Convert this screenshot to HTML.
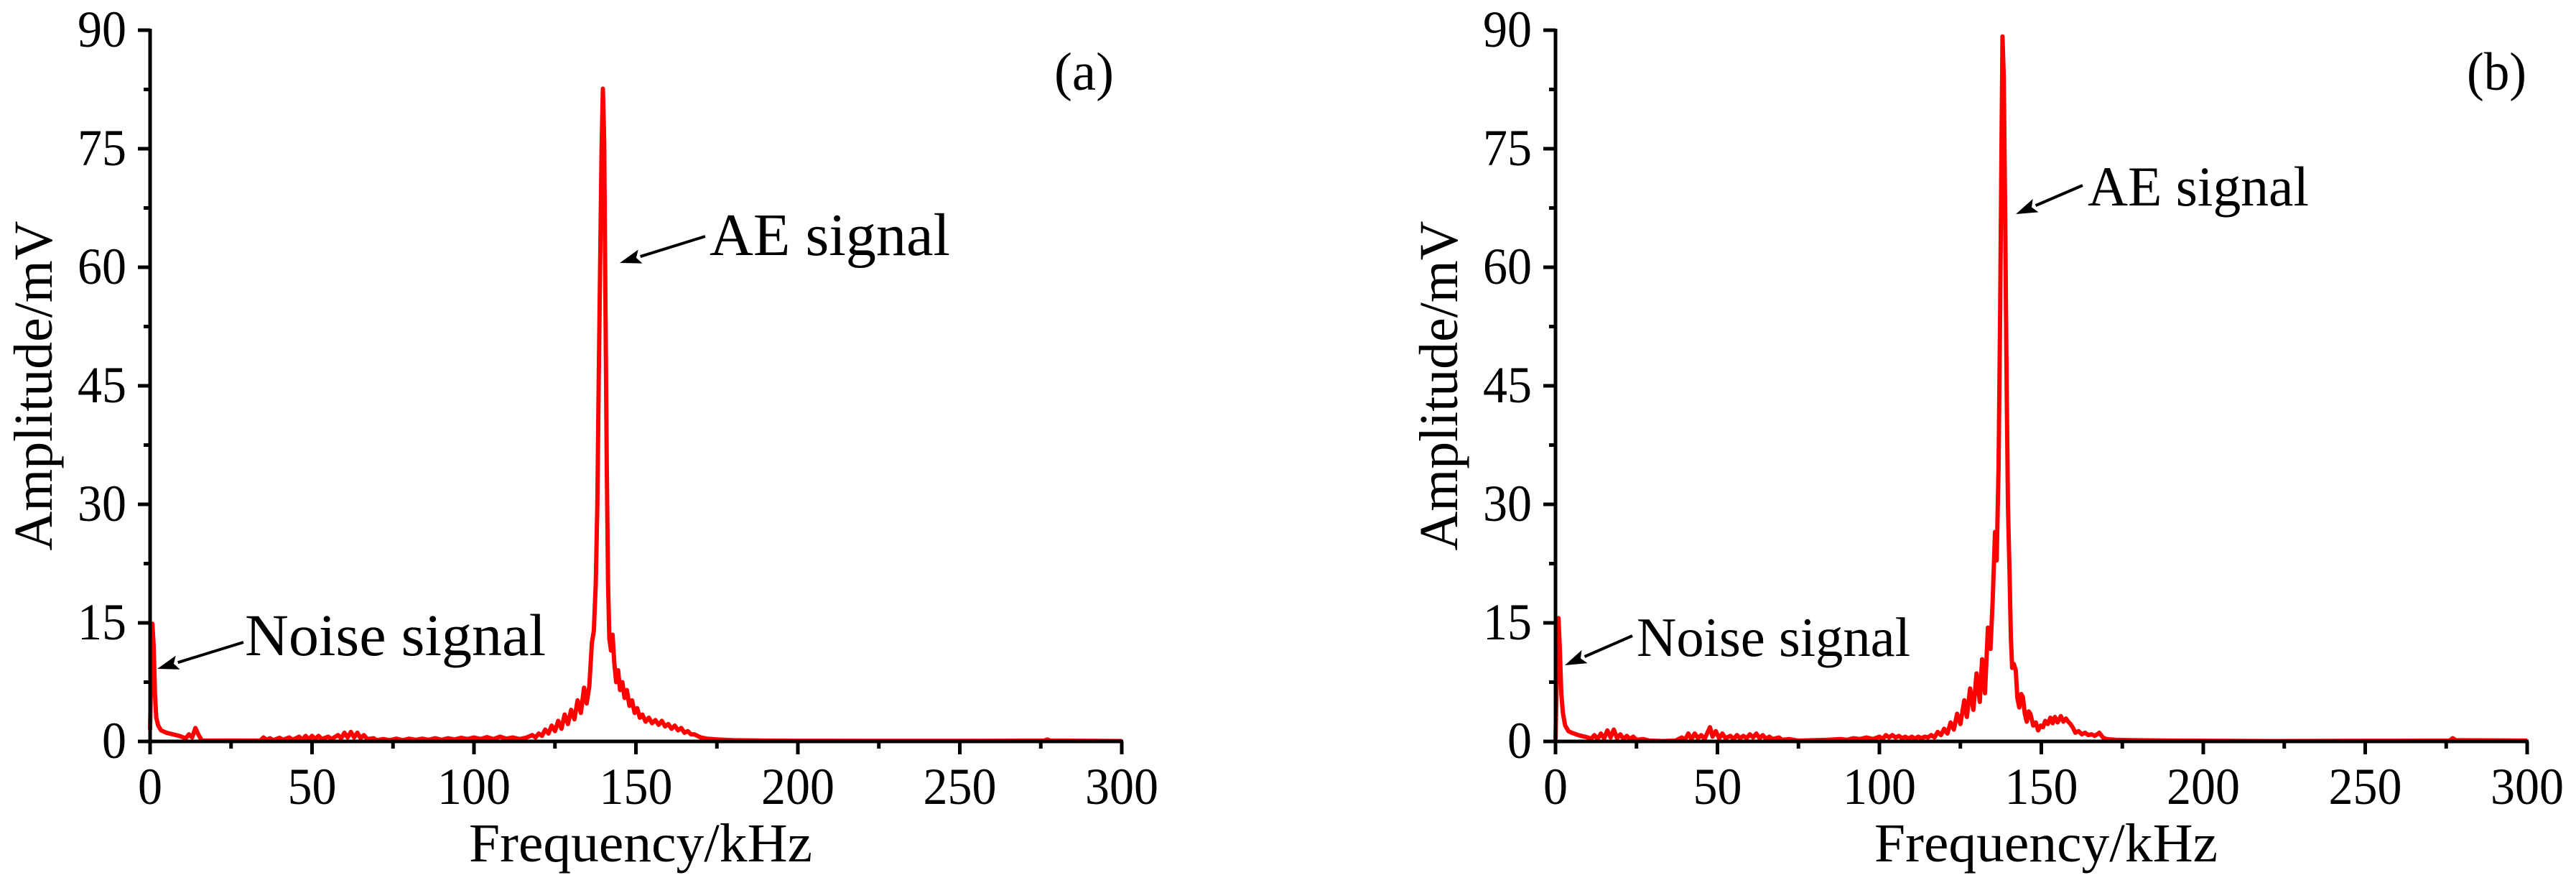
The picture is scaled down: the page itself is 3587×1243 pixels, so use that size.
<!DOCTYPE html>
<html><head><meta charset="utf-8"><style>
html,body{margin:0;padding:0;background:#fff;}
svg{display:block;}
text{font-family:"Liberation Serif","Times New Roman",Times,serif;fill:#000;}
</style></head><body>
<svg id="fig" width="3587" height="1243" viewBox="0 0 3587 1243" xmlns="http://www.w3.org/2000/svg">
<g id="pa"></g>
<g id="pb"></g>
</svg>
<script>
const xTicks = [0, 50, 100, 150, 200, 250, 300];
const yTicks = [0, 15, 30, 45, 60, 75, 90];
const leftFreq = [0,0.4,0.7,1.1,1.5,1.9,2.5,3.4,5,7,9,10,11,12,13,14,15,16,20,25,30,34,35,36,37,38,40,41,43,44,46,47,48,49,50,51,52,53,55,56,58,59,60,61,62,63,64,65,66,67,69,70,72,74,76,78,80,82,84,86,88,90,92,94,96,98,100,102,104,106,108,110,112,114,116,118,119,120,121,122,123,124,125,126,127,128,129,130,131,132,133,134,134.8,135.6,136.4,137,137.6,138.1,138.5,139,139.4,139.8,140.2,140.6,141,141.4,141.8,142.3,142.8,143.3,143.9,144.5,145.1,145.8,146.5,147.2,148,148.8,149.6,150.4,151.2,152,153,154,155,156,157,158,159,160,161,162,163,164,165,166,167,168,170,172,175,180,190,200,220,250,276,277,278,300];
const leftAmp = [1.5,10,14.9,12,6,3,2,1.4,1.1,0.9,0.7,0.55,0.4,0.9,0.5,1.7,0.8,0.1,0.1,0.12,0.1,0.1,0.5,0.2,0.4,0.15,0.45,0.2,0.5,0.2,0.6,0.2,0.7,0.25,0.7,0.3,0.7,0.3,0.6,0.3,0.8,0.4,1.1,0.5,1.2,0.5,1.1,0.4,0.8,0.3,0.4,0.15,0.3,0.15,0.35,0.15,0.35,0.2,0.35,0.2,0.4,0.2,0.4,0.25,0.45,0.3,0.5,0.3,0.55,0.3,0.6,0.35,0.5,0.3,0.45,0.8,0.5,1.0,0.7,1.5,1.0,2.0,1.3,2.6,1.6,3.4,2.2,4.0,2.8,5.2,3.6,6.8,4.8,7.0,12.5,14,20,30,45,62,75,82.6,76,55,35,20,13,11.5,13.5,10,7.5,9,6.5,7.5,5.5,6.5,4.5,5.2,3.6,4.2,3.0,3.4,2.5,3.0,2.3,2.7,2.1,2.6,1.9,2.2,1.6,2.0,1.4,1.7,1.1,1.3,0.9,0.9,0.5,0.35,0.25,0.15,0.1,0.08,0.06,0.06,0.1,0.25,0.1,0.05];
const rightFreq = [0,0.4,0.9,1.3,1.8,2.3,3,4,5,7,9,10,11,12,13,14,15,16,17,18,19,20,21,22,23,24,25,27,29,33,37,39,40,41,42,43,44,45,46,47.7,48.5,49.5,50.5,51.5,52.5,54,55,56,57,58,59,60,61,62,63,64,65,66,67,69,70,72,75,80,84,88,90,92,94,96,98,100,101,102,103,104,105,106,107,108,109,110,111,112,113,114,115,116,117,118,119,120,121,122,123,124,125,126.2,127,128,129,130,131,131.7,132.6,133.5,134.3,135,135.7,136.2,136.8,137.3,137.7,138,138.4,138.8,139.3,139.7,140.2,140.6,141,141.5,142.1,142.6,143.2,143.8,144.3,144.9,145.5,146.1,146.6,147.5,148.3,149,149.8,150.5,151.2,152,152.8,153.5,154.2,155,156,156.8,157.6,158.3,159,159.8,160.5,161.5,162.5,163.5,164.5,165.5,166.5,167.9,169,170,173,178,190,220,260,276,277,278,300];
const rightAmp = [0.3,8,15.6,12,6,3.5,2,1.3,1.1,0.8,0.6,0.5,0.3,0.8,0.3,1.0,0.4,1.4,0.5,1.5,0.4,0.9,0.3,0.7,0.3,0.6,0.2,0.3,0.1,0.05,0.1,0.5,0.2,1.0,0.3,1.0,0.4,0.8,0.3,1.8,0.6,1.3,0.4,1.0,0.4,0.7,0.3,0.8,0.4,0.7,0.4,0.9,0.5,1.0,0.4,0.8,0.3,0.6,0.3,0.5,0.2,0.3,0.1,0.15,0.2,0.3,0.2,0.4,0.3,0.5,0.3,0.6,0.3,0.8,0.5,0.8,0.5,0.7,0.4,0.6,0.35,0.6,0.35,0.6,0.4,0.6,0.5,0.8,0.5,1.2,0.8,1.6,1.0,2.4,1.5,3.5,2.2,5.2,3.1,6.7,4.0,8.6,5.0,10.4,6.1,14.4,11.7,18,26.5,22.9,35,55,75,89.2,84,68,45,30,21,13,9.3,9.8,9,5.5,4.3,6,5.6,3.5,2.5,3.8,3.5,2.0,2.4,1.4,2.0,1.8,2.6,2.2,3.0,2.3,3.1,2.4,3.2,2.5,2.9,2.5,2.2,1.7,1.1,1.3,0.9,1.1,0.8,0.9,0.7,1.1,0.5,0.3,0.2,0.15,0.1,0.05,0.08,0.1,0.4,0.15,0.1];

const NS = "http://www.w3.org/2000/svg";
function mk(parent, tag, attrs, txt) {
  const e = document.createElementNS(NS, tag);
  for (const k in attrs) e.setAttribute(k, attrs[k]);
  if (txt !== undefined) e.textContent = txt;
  parent.appendChild(e);
  return e;
}
function drawPanel(g, x0, freq, amp, cfg) {
  const y0 = 1032, pxPerKHz = 4.51, pxPerMv = 11.0;
  const X = f => x0 + f * pxPerKHz;
  const Y = v => y0 - v * pxPerMv;
  let d = "";
  for (let i = 0; i < freq.length; i++) d += (i ? "L" : "M") + X(freq[i]).toFixed(1) + " " + Y(amp[i]).toFixed(1);
  const line = mk(g, "path", {d: d, fill: "none", stroke: "#ff0000", "stroke-width": 6, "stroke-linejoin": "round"});
  
  
  const ax = mk(g, "path", {d: `M${X(0)} ${Y(90)-2}V${y0}H${X(300)+2}`, fill: "none", stroke: "#000", "stroke-width": 5});
  
  
  for (let i = 0; i < yTicks.length; i++) {
    const v = yTicks[i];
    const t = mk(g, "line", {x1: X(0)-17, x2: X(0), y1: Y(v), y2: Y(v), stroke: "#000", "stroke-width": 5});
    
    
    if (i < yTicks.length - 1) {
      const vm = v + 7.5;
      const m = mk(g, "line", {x1: X(0)-9, x2: X(0), y1: Y(vm), y2: Y(vm), stroke: "#000", "stroke-width": 5});
      
      
    }
    const s = String(v);
    const lb = mk(g, "text", {x: X(0)-33, y: Y(v)+23, "font-size": 72, "text-anchor": "end", textLength: 34*s.length, lengthAdjust: "spacingAndGlyphs"}, s);
    
    
  }
  for (let i = 0; i < xTicks.length; i++) {
    const f = xTicks[i];
    const t = mk(g, "line", {x1: X(f), x2: X(f), y1: y0, y2: y0+18, stroke: "#000", "stroke-width": 5});
    
    
    if (i < xTicks.length - 1) {
      const fm = f + 25;
      const m = mk(g, "line", {x1: X(fm), x2: X(fm), y1: y0, y2: y0+10, stroke: "#000", "stroke-width": 5});
      
      
    }
    const s = String(f);
    const lb = mk(g, "text", {x: X(f), y: 1119, "font-size": 72, "text-anchor": "middle", textLength: 34*s.length, lengthAdjust: "spacingAndGlyphs"}, s);
    
    
  }
  const xt = mk(g, "text", {x: x0 + 444, y: 1199, "font-size": 76, textLength: 478, lengthAdjust: "spacingAndGlyphs"}, "Frequency/kHz");
  
  
  const yx = x0 - 137, yy = 537;
  const yt = mk(g, "text", {x: yx, y: yy, "font-size": 76, "text-anchor": "middle", transform: `rotate(-90 ${yx} ${yy})`, textLength: 459, lengthAdjust: "spacingAndGlyphs"}, "Amplitude/mV");
  
  
  const pl = mk(g, "text", {x: cfg.labelX, y: 125, "font-size": 75, textLength: 83, lengthAdjust: "spacingAndGlyphs"}, cfg.label);
  
  
  for (const a of cfg.ann) {
    const txt = mk(g, "text", {x: a.tx, y: a.ty, "font-size": a.fs, textLength: a.tw, lengthAdjust: "spacingAndGlyphs"}, a.text);
    
    
    const dx = a.x2 - a.x1, dy = a.y2 - a.y1, L = Math.hypot(dx, dy);
    const ux = dx / L, uy = dy / L, hl = 30, hw = 10;
    const bx = a.x2 - ux * hl, by = a.y2 - uy * hl;
    const ln = mk(g, "line", {x1: a.x1, y1: a.y1, x2: bx, y2: by, stroke: "#000", "stroke-width": 4});
    
    
    const hd = mk(g, "polygon", {points: `${a.x2},${a.y2} ${bx - uy*hw},${by + ux*hw} ${bx + ux*6},${by + uy*6} ${bx + uy*hw},${by - ux*hw}`, fill: "#000"});
    
    
  }
}
drawPanel(document.getElementById('pa'), 209, leftFreq, leftAmp, {
  label: "(a)", labelX: 1468,
  ann: [
    {name: "ae-signal", text: "AE signal", tx: 988, ty: 355, fs: 84, tw: 335, x1: 982, y1: 329, x2: 863, y2: 366},
    {name: "noise-signal", text: "Noise signal", tx: 341, ty: 912, fs: 83, tw: 419, x1: 339, y1: 894, x2: 219, y2: 931}
  ]
});
drawPanel(document.getElementById('pb'), 2166, rightFreq, rightAmp, {
  label: "(b)", labelX: 3435,
  ann: [
    {name: "ae-signal", text: "AE signal", tx: 2907, ty: 286, fs: 78, tw: 308, x1: 2900, y1: 258, x2: 2807, y2: 298},
    {name: "noise-signal", text: "Noise signal", tx: 2279, ty: 913, fs: 77, tw: 381, x1: 2273, y1: 885, x2: 2179, y2: 926}
  ]
});
</script>
</body></html>
